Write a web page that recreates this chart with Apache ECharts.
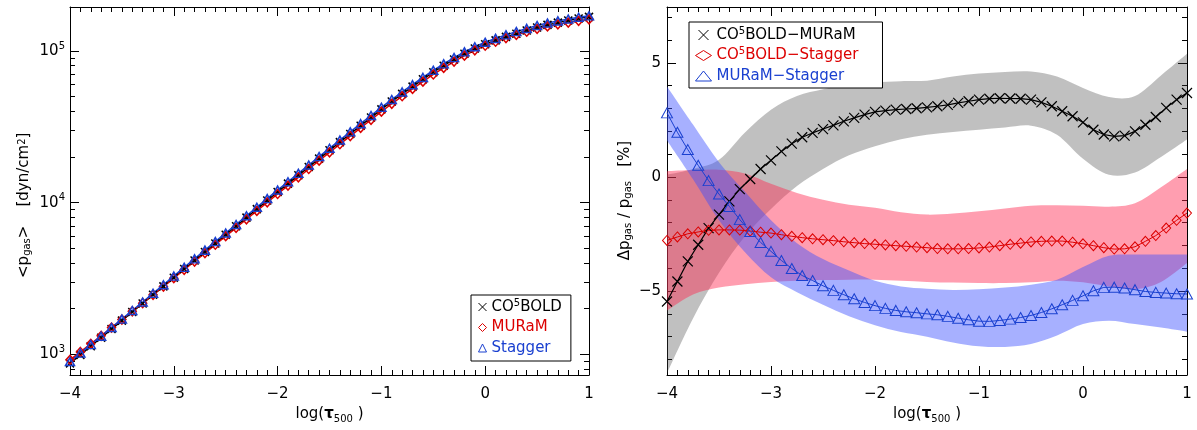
<!DOCTYPE html>
<html>
<head>
<meta charset="utf-8">
<script src="https://cdn.jsdelivr.net/npm/echarts@6/dist/echarts.min.js"></script>
<style>
html,body{margin:0;padding:0;background:#fff;}
#c{width:1197px;height:430px;}
</style>
</head>
<body>
<div id="c"></div>
<script>
// ---------- data ----------
const tau = [-4.0,-3.9,-3.8,-3.7,-3.6,-3.5,-3.4,-3.3,-3.2,-3.1,-3.0,-2.9,-2.8,-2.7,-2.6,-2.5,-2.4,-2.3,-2.2,-2.1,-2.0,-1.9,-1.8,-1.7,-1.6,-1.5,-1.4,-1.3,-1.2,-1.1,-1.0,-0.9,-0.8,-0.7,-0.6,-0.5,-0.4,-0.3,-0.2,-0.1,0.0,0.1,0.2,0.3,0.4,0.5,0.6,0.7,0.8,0.9,1.0];

// left panel: mean gas pressure [dyn/cm^2]
const pCO5BOLD = [871,991,1130,1285,1466,1667,1901,2163,2466,2805,3199,3648,4150,4732,5383,6138,6982,7962,9057,10330,11750,13340,15140,17180,19500,22130,25060,28380,32140,36390,41210,46450,52120,58210,65010,72440,79980,87900,95940,103800,110900,117500,123900,130000,136500,142900,148600,153800,158900,163700,167900];
const pMURaM = [919,1036,1172,1323,1499,1695,1921,2174,2468,2795,3176,3607,4089,4650,5279,6009,6824,7768,8822,10050,11410,12950,14690,16670,18910,21460,24280,27480,31090,35180,39810,44860,50320,56210,62780,69990,77370,85180,93180,101000,108300,115100,121600,127700,134000,140000,145200,149800,154000,158100,161700];
const pStagger = [895,1017,1158,1316,1500,1706,1945,2213,2524,2873,3278,3740,4258,4858,5529,6307,7177,8188,9318,10630,12100,13730,15590,17700,20100,22820,25850,29270,33150,37540,42490,47880,53690,59930,66900,74510,82240,90370,98640,106700,114200,121000,127700,134100,140800,147300,152800,157800,162400,166800,170500];

// right panel: relative differences [%]
const dCO5MURaM = [-5.46,-4.58,-3.70,-2.97,-2.24,-1.65,-1.07,-0.53,-0.09,0.35,0.73,1.12,1.46,1.74,1.93,2.10,2.26,2.44,2.59,2.73,2.85,2.91,2.95,2.98,3.01,3.05,3.10,3.16,3.25,3.32,3.39,3.43,3.45,3.44,3.43,3.39,3.27,3.10,2.88,2.66,2.39,2.07,1.86,1.78,1.81,2.00,2.29,2.63,3.03,3.39,3.68];
const dCO5Stagger = [-2.78,-2.63,-2.49,-2.41,-2.34,-2.32,-2.32,-2.33,-2.37,-2.42,-2.46,-2.53,-2.60,-2.66,-2.71,-2.75,-2.79,-2.84,-2.88,-2.92,-2.95,-2.98,-3.01,-3.04,-3.07,-3.10,-3.14,-3.15,-3.15,-3.14,-3.11,-3.07,-3.01,-2.95,-2.90,-2.85,-2.82,-2.81,-2.81,-2.86,-2.93,-3.01,-3.10,-3.16,-3.15,-3.06,-2.82,-2.57,-2.24,-1.90,-1.58];
const dMURaMStagger = [2.81,1.96,1.20,0.51,-0.16,-0.75,-1.29,-1.87,-2.39,-2.87,-3.26,-3.66,-4.01,-4.32,-4.54,-4.77,-4.97,-5.16,-5.34,-5.50,-5.64,-5.76,-5.85,-5.91,-5.95,-6.00,-6.04,-6.11,-6.19,-6.26,-6.32,-6.33,-6.29,-6.23,-6.16,-6.07,-5.94,-5.78,-5.60,-5.41,-5.21,-4.99,-4.84,-4.83,-4.87,-4.94,-5.02,-5.06,-5.09,-5.12,-5.13];

// uncertainty bands (upper / lower edges)
const bandTau = [-4,-3.75,-3.5,-3.25,-3,-2.75,-2.5,-2.25,-2,-1.75,-1.5,-1.25,-1,-0.75,-0.5,-0.25,0,0.25,0.5,0.75,1];
const bandCMhi = [0.1,0.35,0.75,1.95,2.95,3.55,3.85,4.05,4.15,4.2,4.22,4.4,4.53,4.6,4.62,4.4,3.9,3.5,3.55,4.45,5.4];
const bandCMlo = [-8.6,-6.2,-4.2,-2.6,-1.4,-0.4,0.35,0.95,1.35,1.65,1.85,1.97,2.07,2.17,2.25,1.85,0.8,0.1,0.2,0.88,1.64];
const bandCShi = [0.25,0.3,0.32,0.15,-0.3,-0.7,-1.0,-1.22,-1.35,-1.55,-1.65,-1.6,-1.5,-1.38,-1.26,-1.24,-1.26,-1.3,-1.15,-0.45,0.35];
const bandCSlo = [-5.85,-5.15,-4.85,-4.7,-4.6,-4.55,-4.52,-4.5,-4.5,-4.55,-4.6,-4.63,-4.65,-4.65,-4.62,-4.55,-4.62,-4.8,-4.92,-4.6,-3.77];
const bandMShi = [3.97,2.3,0.65,-0.65,-1.9,-2.9,-3.6,-4.1,-4.55,-4.8,-4.9,-4.95,-4.92,-4.85,-4.72,-4.5,-3.95,-3.45,-3.4,-3.4,-3.4];
const bandMSlo = [1.6,-0.1,-1.9,-3.3,-4.4,-5.05,-5.6,-6.1,-6.5,-6.8,-7.0,-7.25,-7.42,-7.45,-7.32,-6.95,-6.45,-6.3,-6.45,-6.6,-6.78];

// tick values
const yLogMajor = [1000, 10000, 100000];
const yLogMinor = [800, 900, 2000, 3000, 4000, 5000, 6000, 7000, 8000, 9000, 20000, 30000, 40000, 50000, 60000, 70000, 80000, 90000];
const yDiffMajor = [-5, 0, 5];
const yDiffMinor = [-8, -7, -6, -4, -3, -2, -1, 1, 2, 3, 4, 6, 7];

// ---------- style ----------
const FONT = 'DejaVu Sans';
const BLACK = '#000000', RED = '#dc0000', BLUE = '#1a40d0';
const XSYM = 'path://M0,0L10,10M0,10L10,0';
const NB = '\u00a0';

const tx = (c, s) => ({ color: c, fontFamily: FONT, fontSize: s });
const subSup = {
  n: Object.assign(tx(BLACK, 15), { lineHeight: 20 }),
  sub: Object.assign(tx(BLACK, 10), { lineHeight: 10, verticalAlign: 'bottom' }),
  sup: Object.assign(tx(BLACK, 10), { lineHeight: 10, verticalAlign: 'top' }),
  t: Object.assign(tx(BLACK, 15), { lineHeight: 20, fontWeight: 'bold' })
};
const minus = v => String(v).replace('-', '\u2212');

function pairs(xs, ys) { return xs.map((x, i) => [x, ys[i]]); }

function xAxis(grid, pos, withLabel) {
  return {
    type: 'value', gridIndex: grid, position: pos, min: -4, max: 1, interval: 1,
    axisLine: { show: true, onZero: false, lineStyle: { color: BLACK, width: 1 } },
    axisTick: { show: true, inside: true, length: 9, lineStyle: { color: BLACK } },
    minorTick: { show: true, splitNumber: 10, length: 5, lineStyle: { color: BLACK } },
    splitLine: { show: false }, minorSplitLine: { show: false },
    axisLabel: { show: withLabel, margin: 12, fontFamily: FONT, fontSize: 15, color: BLACK, formatter: minus },
    name: withLabel ? 'log({t|\u03c4}{sub|500}' + NB + ')' : '',
    nameLocation: 'middle', nameGap: 28,
    nameTextStyle: { fontFamily: FONT, fontSize: 15, color: BLACK, rich: subSup }
  };
}

function yAxisLog(pos, ticks, len, showLine, labels, name) {
  return {
    type: 'log', gridIndex: 0, position: pos, min: 730, max: 195000, logBase: 10,
    axisLine: { show: showLine, onZero: false, lineStyle: { color: BLACK } },
    axisTick: { show: true, inside: true, length: len, customValues: ticks, lineStyle: { color: BLACK } },
    splitLine: { show: false },
    axisLabel: labels ? {
      show: true, margin: 5, customValues: yLogMajor,
      formatter: v => '{n|10}{sup|' + Math.round(Math.log10(v)) + '}',
      rich: subSup
    } : { show: false },
    name: name || '', nameLocation: 'middle', nameGap: 38, nameRotate: 90,
    nameTextStyle: { fontFamily: FONT, fontSize: 15, color: BLACK, rich: subSup }
  };
}

function yAxisLin(pos, ticks, len, showLine, labels, name) {
  return {
    type: 'value', gridIndex: 1, position: pos, min: -8.68, max: 7.45,
    axisLine: { show: showLine, onZero: false, lineStyle: { color: BLACK } },
    axisTick: { show: true, inside: true, length: len, customValues: ticks, lineStyle: { color: BLACK } },
    splitLine: { show: false },
    axisLabel: labels ? {
      show: true, margin: 6, customValues: yDiffMajor, fontFamily: FONT, fontSize: 15, color: BLACK, formatter: minus
    } : { show: false },
    name: name || '', nameLocation: 'middle', nameGap: 34, nameRotate: 90,
    nameTextStyle: { fontFamily: FONT, fontSize: 15, color: BLACK, rich: subSup }
  };
}

function lineSeries(name, xi, yi, ys, color, symbol, size, width, z) {
  return {
    name: name, type: 'line', xAxisIndex: xi, yAxisIndex: yi, data: pairs(tau, ys),
    symbol: symbol, symbolSize: size, showAllSymbol: true, z: z,
    itemStyle: { color: 'transparent', borderColor: color, borderWidth: width },
    lineStyle: { color: color, width: width },
    emphasis: { disabled: true }, silent: true, animation: false
  };
}

function smoothEdge(pts) {
  let d = '';
  for (let i = 0; i < pts.length - 1; i++) {
    const p0 = pts[i - 1] || pts[i], p1 = pts[i], p2 = pts[i + 1], p3 = pts[i + 2] || p2;
    d += 'C' + (p1[0] + (p2[0] - p0[0]) / 6) + ',' + (p1[1] + (p2[1] - p0[1]) / 6) + ',' +
         (p2[0] - (p3[0] - p1[0]) / 6) + ',' + (p2[1] - (p3[1] - p1[1]) / 6) + ',' + p2[0] + ',' + p2[1];
  }
  return d;
}

function bandSeries(hi, lo, color) {
  return {
    type: 'custom', xAxisIndex: 2, yAxisIndex: 4, data: [[0, 0]], clip: true, silent: true, z: 1,
    animation: false,
    renderItem: (params, api) => {
      const up = bandTau.map((x, i) => api.coord([x, hi[i]]));
      const dn = bandTau.map((x, i) => api.coord([x, lo[i]])).reverse();
      const d = 'M' + up[0][0] + ',' + up[0][1] + smoothEdge(up) +
                'L' + dn[0][0] + ',' + dn[0][1] + smoothEdge(dn) + 'Z';
      return { type: 'path', shape: { pathData: d }, style: { fill: color, stroke: null } };
    }
  };
}

// legend text
const legendColor = {
  'CO5BOLD': 'k', 'MURaM': 'r', 'Stagger': 'b',
  'CO5BOLD\u2212MURaM': 'k', 'CO5BOLD\u2212Stagger': 'r', 'MURaM\u2212Stagger': 'b'
};
const legendRich = {};
[['k', BLACK], ['r', RED], ['b', BLUE]].forEach(([k, c]) => {
  legendRich[k] = Object.assign(tx(c, 15), { lineHeight: 18 });
  legendRich[k + 's'] = Object.assign(tx(c, 10), { lineHeight: 10, verticalAlign: 'top' });
});
const legendFmt = name => {
  const k = legendColor[name];
  if (name.indexOf('CO5BOLD') === 0) {
    return '{' + k + '|CO}{' + k + 's|5}{' + k + '|BOLD' + name.slice(7) + '}';
  }
  return '{' + k + '|' + name + '}';
};
const legendItem = (name, icon, color) => ({
  name: name, icon: icon,
  itemStyle: { color: 'transparent', borderColor: color, borderWidth: 1 }
});

const chart = echarts.init(document.getElementById('c'), null, { renderer: 'canvas' });
chart.setOption({
  backgroundColor: '#ffffff',
  animation: false,
  grid: [
    { left: 70, top: 7, width: 519, height: 368 },
    { left: 667, top: 7, width: 520, height: 368 }
  ],
  xAxis: [
    xAxis(0, 'bottom', true), xAxis(0, 'top', false),
    xAxis(1, 'bottom', true), xAxis(1, 'top', false)
  ],
  yAxis: [
    yAxisLog('left', yLogMajor, 9, true, true, '<p{sub|gas}>' + NB + NB + NB + NB + '[dyn/cm{sup|2}]' + NB.repeat(6)),
    yAxisLog('left', yLogMinor, 5, false, false),
    yAxisLog('right', yLogMajor, 9, true, false),
    yAxisLog('right', yLogMinor, 5, false, false),
    yAxisLin('left', yDiffMajor, 9, true, true, '\u0394p{sub|gas}' + NB + '/' + NB + 'p{sub|gas}' + NB + NB + NB + '[%]' + NB.repeat(4)),
    yAxisLin('left', yDiffMinor, 5, false, false),
    yAxisLin('right', yDiffMajor, 9, true, false),
    yAxisLin('right', yDiffMinor, 5, false, false)
  ],
  legend: [
    {
      left: 471, top: 295, orient: 'vertical', selectedMode: false,
      padding: [3, 9, 4, 7], itemGap: 2.5, itemWidth: 8, itemHeight: 8,
      backgroundColor: '#fff', borderColor: BLACK, borderWidth: 1, borderRadius: 0,
      textStyle: { fontFamily: FONT, fontSize: 15, lineHeight: 18, rich: legendRich },
      formatter: legendFmt,
      data: [legendItem('CO5BOLD', XSYM, BLACK), legendItem('MURaM', 'diamond', RED), legendItem('Stagger', 'triangle', BLUE)]
    },
    {
      left: 689, top: 22, orient: 'vertical', selectedMode: false,
      padding: [4, 24, 3, 6], itemGap: 2.5, itemWidth: 16, itemHeight: 10,
      backgroundColor: '#fff', borderColor: BLACK, borderWidth: 1, borderRadius: 0,
      textStyle: { fontFamily: FONT, fontSize: 15, lineHeight: 18, rich: legendRich },
      formatter: legendFmt,
      data: [legendItem('CO5BOLD\u2212MURaM', XSYM, BLACK), legendItem('CO5BOLD\u2212Stagger', 'diamond', RED), legendItem('MURaM\u2212Stagger', 'triangle', BLUE)]
    }
  ],
  series: [
    lineSeries('CO5BOLD', 0, 0, pCO5BOLD, BLACK, XSYM, 8, 1.5, 3),
    lineSeries('MURaM', 0, 0, pMURaM, RED, 'diamond', [8, 9], 1.5, 3),
    lineSeries('Stagger', 0, 0, pStagger, BLUE, 'triangle', [9, 8], 1.5, 3),
    bandSeries(bandCMhi, bandCMlo, 'rgba(64,64,64,0.33)'),
    bandSeries(bandCShi, bandCSlo, 'rgba(255,40,80,0.45)'),
    bandSeries(bandMShi, bandMSlo, 'rgba(60,80,255,0.45)'),
    lineSeries('CO5BOLD\u2212MURaM', 2, 4, dCO5MURaM, BLACK, XSYM, 10, 1.2, 3),
    lineSeries('CO5BOLD\u2212Stagger', 2, 4, dCO5Stagger, RED, 'diamond', [9, 10], 1, 3),
    lineSeries('MURaM\u2212Stagger', 2, 4, dMURaMStagger, BLUE, 'triangle', [11, 10], 1, 3)
  ]
});
</script>
</body>
</html>
